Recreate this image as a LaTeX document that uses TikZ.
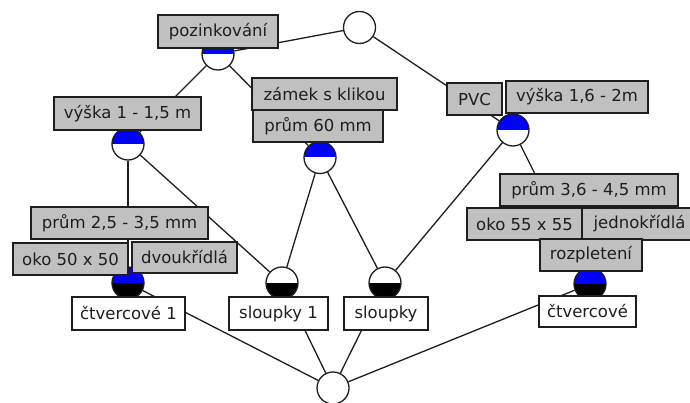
\documentclass[tikz,border=0pt]{standalone}
\usepackage{fontspec}
\setmainfont{DejaVu Sans}
\usetikzlibrary{backgrounds}
\definecolor{lblgray}{RGB}{192,192,192}
\definecolor{ink}{RGB}{30,30,30}
\tikzset{
  concept/.style={circle, draw=ink, line width=1.3pt, minimum size=32pt, inner sep=0pt, fill=white},
  attrtop/.style={concept, path picture={\fill[blue] (path picture bounding box.west) rectangle (path picture bounding box.north east);}},
  objbot/.style={concept, path picture={\fill[black] (path picture bounding box.west) rectangle (path picture bounding box.south east);}},
  attrobj/.style={concept, path picture={
      \fill[blue] (path picture bounding box.west) rectangle (path picture bounding box.north east);
      \fill[black] (path picture bounding box.west) rectangle (path picture bounding box.south east);}},
  lbl/.style={draw=ink, line width=1.3pt, inner sep=0pt, text=ink,
    font=\fontsize{16.5}{18}\selectfont},
  attrlbl/.style={lbl, fill=lblgray},
  objlbl/.style={lbl, fill=white},
  edge/.style={draw=ink, line width=1.3pt}
}
\begin{document}
\begin{tikzpicture}[x=1pt, y=-1pt]
\useasboundingbox (0,0) rectangle (690,403);

% concepts of the lattice
\node[concept] (top)  at (359.5,27.5) {};
\node[attrtop] (poz)  at (218,54) {};
\node[attrtop] (vys1) at (128,144) {};
\node[attrtop] (p60)  at (320,157.5) {};
\node[attrtop] (pvc)  at (513,130) {};
\node[attrobj] (c1)   at (128,283) {};
\node[objbot]  (s1)   at (282,283) {};
\node[objbot]  (s)    at (385,283) {};
\node[attrobj] (c)    at (590,284) {};
\node[concept] (bot)  at (333,388) {};

% order relation
\begin{scope}[on background layer]
  \fill[white] (0,0) rectangle (690,403);
  \draw[edge] (top) -- (poz);
  \draw[edge] (top) -- (pvc);
  \draw[edge] (poz) -- (vys1);
  \draw[edge] (poz) -- (p60);
  \draw[edge] (vys1) -- (c1);
  \draw[edge] (vys1) -- (s1);
  \draw[edge] (p60) -- (s1);
  \draw[edge] (p60) -- (s);
  \draw[edge] (pvc) -- (s);
  \draw[edge] (pvc) -- (c);
  \draw[edge] (c1) -- (bot);
  \draw[edge] (s1) -- (bot);
  \draw[edge] (s) -- (bot);
  \draw[edge] (c) -- (bot);
\end{scope}

% attribute labels
\node[attrlbl, minimum width=120pt, minimum height=33pt] (lpoz) at (218,31.5) {pozinkování};
\node[attrlbl, minimum width=147pt, minimum height=33pt] (lvys1) at (127.5,113.5) {výška 1 - 1,5 m};
\node[attrlbl, minimum width=145pt, minimum height=32pt] (lzam) at (324.5,94) {zámek s klikou};
\node[attrlbl, minimum width=130pt, minimum height=32pt] (lp60) at (318,126) {prům 60 mm};
\node[attrlbl, minimum width=55pt, minimum height=32pt] (lpvc) at (474.5,99) {PVC};
\node[attrlbl, minimum width=142pt, minimum height=32pt] (lvys2) at (577,97) {výška 1,6 - 2m};
\node[attrlbl, minimum width=177pt, minimum height=32pt] (lp25) at (119.5,223) {prům 2,5 - 3,5 mm};
\node[attrlbl, minimum width=115pt, minimum height=32pt] (loko50) at (70.5,259) {oko 50 x 50};
\node[attrlbl, minimum width=105pt, minimum height=31pt] (ldvou) at (184.5,257.5) {dvoukřídlá};
\node[attrlbl, minimum width=178pt, minimum height=32pt] (lp36) at (589,190) {prům 3,6 - 4,5 mm};
\node[attrlbl, minimum width=115pt, minimum height=32pt] (loko55) at (524.5,224) {oko 55 x 55};
\node[attrlbl, minimum width=115pt, minimum height=32pt] (ljedn) at (639.5,224) {jednokřídlá};
\node[attrlbl, minimum width=102pt, minimum height=32pt] (lrozp) at (591,255) {rozpletení};

% object labels
\node[objlbl, minimum width=113pt, minimum height=33pt] (lc1) at (128.5,313.5) {čtvercové 1};
\node[objlbl, minimum width=99pt, minimum height=33pt] (ls1) at (278.5,313.5) {sloupky 1};
\node[objlbl, minimum width=84pt, minimum height=33pt] (ls) at (386,313.5) {sloupky};
\node[objlbl, minimum width=97pt, minimum height=31pt] (lc) at (587.5,311.5) {čtvercové};
\end{tikzpicture}
\end{document}
